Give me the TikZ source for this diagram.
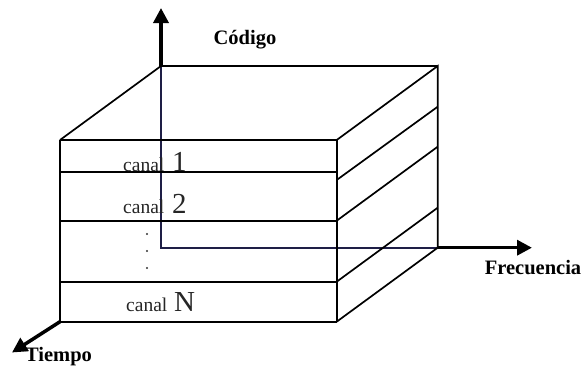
\documentclass[tikz,border=0pt]{standalone}
\usepackage{fontspec}
\setmainfont{Liberation Serif}
\usetikzlibrary{arrows.meta}
\definecolor{hidden}{RGB}{30,30,70}
\tikzset{
  edge/.style={line width=1.7pt, black},
  hid/.style={line width=1.7pt, hidden},
  axis/.style={line width=3.5pt, -{Triangle[length=15pt,width=15pt]}},
  axlabel/.style={font=\fontsize{20.5}{24}\selectfont\bfseries, inner sep=0pt},
  chan/.style={font=\fontsize{19.5}{24}\selectfont, inner sep=0pt, anchor=base west, text=black!85},
  chnum/.style={font=\fontsize{29}{30}\selectfont, inner sep=0pt, anchor=base west, text=black!85},
  dotn/.style={circle, fill=black!80, inner sep=0pt, minimum size=2.4pt}
}
\begin{document}
\begin{tikzpicture}[x=1pt,y=-1pt]
\useasboundingbox (0,0) rectangle (584,367);
% front face corners and levels
\coordinate (fa) at (60,140);   \coordinate (fae) at (336.7,140);
\coordinate (fb) at (60,172);   \coordinate (fbe) at (336.7,172);
\coordinate (fbd) at (336.7,180);
\coordinate (fc) at (60,220.7); \coordinate (fce) at (336.7,220.7);
\coordinate (fd) at (60,281.7); \coordinate (fde) at (336.7,281.7);
\coordinate (fe) at (60,321.7); \coordinate (fee) at (336.7,321.7);
% back
\coordinate (o) at (161,66);
\coordinate (ba) at (437.7,66);
\coordinate (bb) at (437.7,106.7);
\coordinate (bc) at (437.7,146.7);
\coordinate (bd) at (437.7,207.7);
\coordinate (be) at (437.7,247.7);
\coordinate (oh) at (161,247.7);
% axis ends
\coordinate (zt) at (161,8);
\coordinate (xt) at (532,247.7);
\coordinate (tt) at (12,352.5);
% hidden lines
\draw[hid] (o) -- (oh) -- (be);
% front face
\draw[edge] (fa) -- (fae);
\draw[edge] (fb) -- (fbe);
\draw[edge] (fc) -- (fce);
\draw[edge] (fd) -- (fde);
\draw[edge] (fe) -- (fee);
\draw[edge] (fa) -- (fe);
\draw[edge] (fae) -- (fee);
% top face
\draw[edge] (fa) -- (o) -- (ba);
% right face
\draw[edge] (fae) -- (ba) -- (be);
\draw[edge] (fbd) -- (bb);
\draw[edge] (fce) -- (bc);
\draw[edge] (fde) -- (bd);
\draw[edge] (fee) -- (be);
% axes
\draw[axis] (o) -- (zt);
\draw[axis] (be) -- (xt);
\draw[axis] (fe) -- (tt);
% labels
\node[axlabel] (lcod) at (245,40) {Código};
\node[axlabel] (lfre) at (533,268) {Frecuencia};
\node[axlabel] (ltie) at (58.5,357) {Tiempo};
\node[chan] (c1) at (123,171) {canal};
\node[chnum] (n1) at (172,171) {1};
\node[chan] (c2) at (123,213.3) {canal};
\node[chnum] (n2) at (172,213.3) {2};
\node[chan] (c3) at (126,311.7) {canal};
\node[chnum] (n3) at (174,311.7) {N};
\node[dotn] (d1) at (147,234) {};
\node[dotn] (d2) at (147,251) {};
\node[dotn] (d3) at (147,268) {};
\end{tikzpicture}
\end{document}
